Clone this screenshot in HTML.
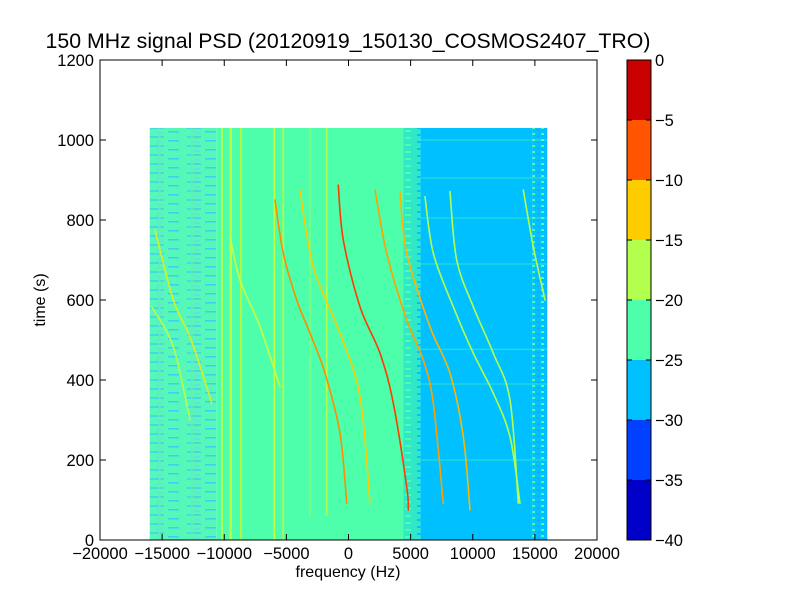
<!DOCTYPE html>
<html><head><meta charset="utf-8"><style>
body{margin:0;background:#fff}
svg text{font-family:"Liberation Sans","DejaVu Sans",sans-serif}
</style></head><body>
<svg id="chart" width="800" height="600" xmlns="http://www.w3.org/2000/svg">
<defs>
<pattern id="noiseL" width="37" height="9" patternUnits="userSpaceOnUse">
<rect width="37" height="9" fill="#55f8b8"/>
<rect x="2" y="1" width="14" height="2" fill="#48d8e0"/>
<rect x="20" y="5" width="11" height="1.5" fill="#40ccec"/>
<rect x="9" y="6" width="6" height="2" fill="#62e4d8"/>
</pattern>
<pattern id="noiseM" width="23" height="7" patternUnits="userSpaceOnUse">
<rect width="23" height="7" fill="#30e8c8"/>
<rect x="3" y="1" width="8" height="2" fill="#00c0ff"/>
<rect x="14" y="4" width="6" height="2" fill="#4dffaa"/>
</pattern>
<pattern id="noiseR" width="9" height="6" patternUnits="userSpaceOnUse">
<rect width="9" height="6" fill="#00c0ff"/>
<rect x="1" y="1" width="3" height="2" fill="#4dffaa"/>
<rect x="6" y="4" width="2" height="1" fill="#2a90ff"/>
</pattern>
</defs>
<text x="348" y="48" font-size="21.3" text-anchor="middle">150 MHz signal PSD (20120919_150130_COSMOS2407_TRO)</text>
<g id="plot"></g>
<g id="axes"></g>
<text x="348" y="577" font-size="16" text-anchor="middle">frequency (Hz)</text>
<text transform="translate(45,300) rotate(-90)" font-size="16" text-anchor="middle">time (s)</text>
<g id="cbar"></g>
</svg>
<script>
const xTicks=[-20000,-15000,-10000,-5000,0,5000,10000,15000,20000];
const yTicks=[0,200,400,600,800,1000,1200];
const cbLevels=[-40,-35,-30,-25,-20,-15,-10,-5,0];
const cbColors=["#0000c8","#0040ff","#00c0ff","#4dffaa","#b3ff4d","#ffcc00","#ff5500","#c80000"];
const regionF0=[-16000,-10600,4400,5800,14800];
const regionF1=[-10600,4400,5800,14800,16000];
const regionFill=["url(#noiseL)","#4dffaa","url(#noiseM)","#00c0ff","url(#noiseR)"];
const dataTmax=1030;
const vlineF=[-10180,-9537,-9450,-8650,-5970,-5247,-3099,-1754,-12600,-15200];
const vlineColor=["#c8ff40","#d8f020","#b3ff4d","#d8f020","#c8ff40","#d8f020","#80ff80","#b3ff4d","#60f0b0","#60f0b0"];
const vlineT0=[0,0,0,0,0,0,60,60,0,0];
const hlineT=[1000,905,805,690,477,390,200];
const traceF=[
[-5915,-5247,-4169,-3099,-1891,-684,-145],
[-3903,-2833,-684,925,1730],
[-821,-419,925,2535,3606,4684,4813],
[2133,3074,4684,6020,6825,7630],
[4145,4684,6559,8169,9239,9778],
[6157,6825,8435,10044,11654,12998,13803],
[8169,8708,10044,11654,12998,13666],
[14068,14873,15815],
[-15573,-14100,-12756,-11412,-11010],
[-15840,-14100,-12756],
[-9537,-8732,-7122,-5513]
];
const traceT=[
[850,717,600,517,417,267,92],
[875,683,517,358,92],
[887,750,583,467,342,133,75],
[875,717,550,450,342,92],
[871,717,533,417,258,75],
[858,717,583,467,367,258,92],
[871,700,583,467,350,92],
[875,733,600],
[775,600,508,383,342],
[583,483,300],
[758,650,533,383]
];
const traceColor=["#ff8c00","#ffcc00","#ff3c00","#ffa000","#ffb400","#b3ff4d","#b3ff4d","#b3ff4d","#d8f020","#b3ff4d","#c8ff40"];
const NS="http://www.w3.org/2000/svg";
const X0=100,X1=597,Y0=540,Y1=60;
const xs=f=>X0+(f+20000)/40000*(X1-X0);
const ys=t=>Y0-t/1200*(Y0-Y1);
function mk(tag,attrs,parent){const e=document.createElementNS(NS,tag);for(const k in attrs)e.setAttribute(k,attrs[k]);parent.appendChild(e);return e;}
function smooth(P){
 let d="M"+P[0][0].toFixed(1)+","+P[0][1].toFixed(1);
 for(let i=0;i<P.length-1;i++){
  const p0=P[Math.max(0,i-1)],p1=P[i],p2=P[i+1],p3=P[Math.min(P.length-1,i+2)];
  const c1=[p1[0]+(p2[0]-p0[0])/6,p1[1]+(p2[1]-p0[1])/6];
  const c2=[p2[0]-(p3[0]-p1[0])/6,p2[1]-(p3[1]-p1[1])/6];
  d+=" C"+c1.map(v=>v.toFixed(1)).join(",")+" "+c2.map(v=>v.toFixed(1)).join(",")+" "+p2[0].toFixed(1)+","+p2[1].toFixed(1);
 }
 return d;
}
const plot=document.getElementById('plot');
for(let i=0;i<regionF0.length;i++){
 const r=mk('rect',{x:xs(regionF0[i]),y:ys(dataTmax),width:xs(regionF1[i])-xs(regionF0[i]),height:ys(0)-ys(dataTmax),fill:regionFill[i]},plot);
 
 
}
for(let i=0;i<hlineT.length;i++){
 const l=mk('line',{x1:xs(5800),x2:xs(16000),y1:ys(hlineT[i]),y2:ys(hlineT[i]),stroke:"#4dffaa","stroke-width":1,opacity:0.6},plot);
 
 
}
for(let i=0;i<vlineF.length;i++){
 const l=mk('line',{x1:xs(vlineF[i]),x2:xs(vlineF[i]),y1:ys(dataTmax),y2:ys(vlineT0[i]),stroke:vlineColor[i],"stroke-width":1.6},plot);
 
 
}
for(let i=0;i<traceF.length;i++){
 const P=traceF[i].map((f,j)=>[xs(f),ys(traceT[i][j])]);
 const p=mk('path',{d:smooth(P),fill:"none",stroke:traceColor[i],"stroke-width":1.6,"stroke-linecap":"round"},plot);
 
 
}
const axes=document.getElementById('axes');
const frame=mk('rect',{x:X0,y:Y1,width:X1-X0,height:Y0-Y1,fill:"none",stroke:"#000","stroke-width":1},axes);


xTicks.forEach(v=>{
 const x=xs(v);
 mk('line',{x1:x,x2:x,y1:Y0,y2:Y0-6,stroke:"#000"},axes);
 mk('line',{x1:x,x2:x,y1:Y1,y2:Y1+6,stroke:"#000"},axes);
 const t=mk('text',{x:x,y:Y0+19,"font-size":16.5,"text-anchor":"middle"},axes);
 t.textContent=(v<0?"\u2212"+(-v):String(v));
 
 
});
yTicks.forEach(v=>{
 const y=ys(v);
 mk('line',{x1:X0,x2:X0+6,y1:y,y2:y,stroke:"#000"},axes);
 mk('line',{x1:X1,x2:X1-6,y1:y,y2:y,stroke:"#000"},axes);
 const t=mk('text',{x:X0-6,y:y+6,"font-size":16.5,"text-anchor":"end"},axes);
 t.textContent=String(v);
 
 
});
const cb=document.getElementById('cbar');
const CX0=627,CX1=651;
const cy=v=>Y0+(v+40)/40*(Y1-Y0);
for(let i=0;i<cbColors.length;i++){
 const r=mk('rect',{x:CX0,y:cy(cbLevels[i+1]),width:CX1-CX0,height:cy(cbLevels[i])-cy(cbLevels[i+1]),fill:cbColors[i]},cb);
 
 
}
mk('rect',{x:CX0,y:Y1,width:CX1-CX0,height:Y0-Y1,fill:"none",stroke:"#000"},cb);
cbLevels.forEach(v=>{
 const y=cy(v);
 mk('line',{x1:CX0,x2:CX0+5,y1:y,y2:y,stroke:"#000"},cb);
 mk('line',{x1:CX1,x2:CX1-5,y1:y,y2:y,stroke:"#000"},cb);
 const t=mk('text',{x:CX1+4,y:y+6,"font-size":16.5},cb);
 t.textContent=(v<0?"\u2212"+(-v):String(v));
 
 
});
</script>
</body></html>
